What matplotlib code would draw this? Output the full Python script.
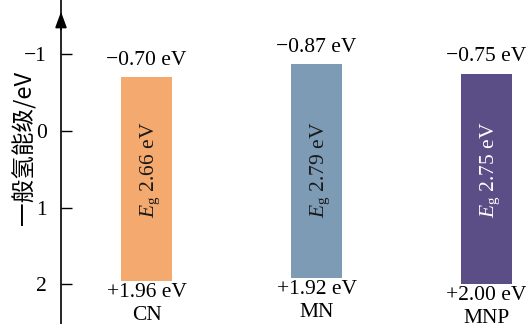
import matplotlib.pyplot as plt

# 数据
samples = ['CN', 'MN', 'MNP']
vb_top = [-0.70, -0.87, -0.75]      # 上沿 (eV)
cb_bottom = [1.96, 1.92, 2.00]      # 下沿 (eV)
gaps = ['2.66', '2.79', '2.75']
colors = ['#F4A96E', '#7D9BB5', '#5B4E87']
gap_text_colors = ['#1a1a1a', '#1a1a1a', 'white']
yticks = [-1, 0, 1, 2]

plt.rcParams['font.family'] = ['Liberation Serif']
plt.rcParams['mathtext.fontset'] = 'custom'
plt.rcParams['mathtext.rm'] = 'Liberation Serif'
plt.rcParams['mathtext.it'] = 'Liberation Serif:italic'

fig = plt.figure(figsize=(5.26, 3.24), dpi=100)
ax = fig.add_axes([61 / 526, 0, 1 - 61 / 526, 1])

fs = 15.5
x = range(len(samples))
width = 0.3
for i in x:
    ax.bar(i, cb_bottom[i] - vb_top[i], bottom=vb_top[i], width=width,
           color=colors[i], edgecolor='none')
    ax.text(i, vb_top[i] - 0.1, '\u2212%.2f eV' % abs(vb_top[i]),
            ha='center', va='bottom', fontsize=fs)
    ax.text(i, cb_bottom[i] + 0.03, '+%.2f eV' % cb_bottom[i],
            ha='center', va='top', fontsize=fs)
    ax.text(i, cb_bottom[i] + 0.32, samples[i],
            ha='center', va='top', fontsize=fs)
    ax.text(i + 0.02, 0.5, r'$\mathit{E}_{\mathrm{g}}$ ' + gaps[i] + ' eV',
            rotation=90, ha='center', va='center', fontsize=fs,
            color=gap_text_colors[i])

ax.set_xlim(-0.503, 2.232)
ax.set_ylim(2.52, -1.71)

for s in ['top', 'right', 'bottom']:
    ax.spines[s].set_visible(False)
ax.spines['left'].set_linewidth(1.2)
ax.set_xticks([])
ax.set_yticks(yticks)
ax.set_yticklabels([str(t).replace('-', '\u2212') for t in yticks])
ax.tick_params(axis='y', direction='in', length=8, width=1, labelsize=fs, pad=10)

# 箭头
ax.annotate('', xy=(0, 1 - 9 / 324), xytext=(0, 0.9), xycoords='axes fraction',
            arrowprops=dict(arrowstyle='-|>,head_length=0.6,head_width=0.22',
                            color='black', lw=1.2, mutation_scale=16))

fig.text(24 / 526, 1 - 148 / 324, '一般氢能级/eV', rotation=90,
         ha='center', va='center', fontsize=17,
         family=['Noto Sans CJK SC', 'DejaVu Sans'])

fig.savefig('out.png', dpi=100)
